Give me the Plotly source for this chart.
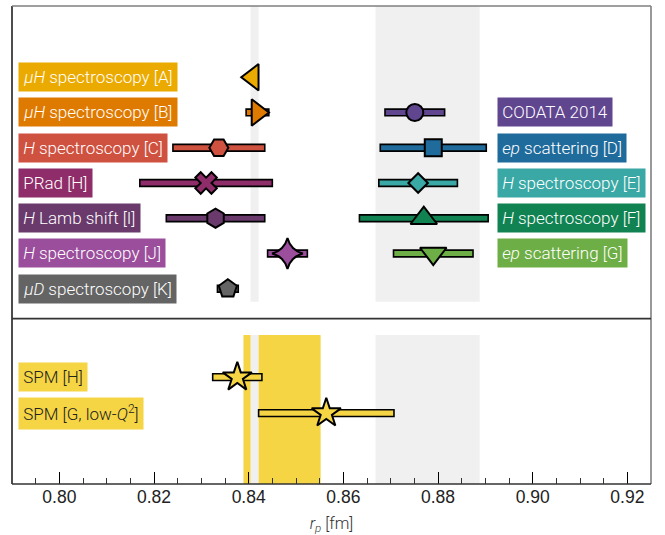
import plotly.graph_objects as go
from plotly.subplots import make_subplots

# ---------------- data ----------------
# top panel, left-labelled series (rows top -> bottom)
left_labels = ["<i>μH</i> spectroscopy [A]", "<i>μH</i> spectroscopy [B]",
               "<i>H</i> spectroscopy [C]", "PRad [H]", "<i>H</i> Lamb shift [I]",
               "<i>H</i> spectroscopy [J]", "<i>μD</i> spectroscopy [K]"]
left_rows = [0, 1, 2, 3, 4, 5, 6]
left_values = [0.84087, 0.84186, 0.8337, 0.8310, 0.8330, 0.8482, 0.8356]
left_errors = [0.00039, 0.0024, 0.0097, 0.0140, 0.0104, 0.0042, 0.0022]
left_colors = ["#EBAA00", "#DF7A00", "#CF5140", "#8F2D6A", "#6A3A6C", "#9A4E9C", "#646464"]
left_symbols = ["triangle-left", "triangle-right", "hexagon2", "x", "hexagon", "star-diamond", "pentagon"]
left_sizes = [23, 23, 19, 19, 19, 22, 19]

# top panel, right-labelled series
right_labels = ["CODATA 2014", "<i>ep</i> scattering [D]", "<i>H</i> spectroscopy [E]",
                "<i>H</i> spectroscopy [F]", "<i>ep</i> scattering [G]"]
right_rows = [1, 2, 3, 4, 5]
right_values = [0.8751, 0.8790, 0.8758, 0.8770, 0.8790]
right_errors = [0.0063, 0.0112, 0.0083, 0.0136, 0.0084]
right_colors = ["#60458F", "#1F6B9B", "#3AA8A5", "#118352", "#6EAE46"]
right_symbols = ["circle", "square", "diamond", "triangle-up", "triangle-down"]
right_sizes = [17, 17, 15, 23, 23]

# bottom panel (SPM)
spm_labels = ["SPM [H]", "SPM [G, low-<i>Q</i><sup>2</sup>]"]
spm_rows = [0, 1]
spm_values = [0.8376, 0.8564]
spm_errors = [0.0052, 0.0143]
spm_color = "#F6D545"

# shaded bands (x ranges)
gray_bands = [(0.8404, 0.8421), (0.8668, 0.8888)]
yellow_bands = [(0.8389, 0.8404), (0.8421, 0.8552)]

x_range = [0.790, 0.925]
TOP_FRAC = 0.654

# ---------------- figure ----------------
fig = make_subplots(rows=2, cols=1, shared_xaxes=True, vertical_spacing=0,
                    row_heights=[TOP_FRAC, 1 - TOP_FRAC])

BAR_W = 0.19
EDGE = dict(color="black", width=1.6)


def add_series(values, errors, rows, colors, symbols, sizes, row):
    fig.add_trace(go.Bar(orientation="h", y=rows,
                         x=[2 * e for e in errors],
                         base=[v - e for v, e in zip(values, errors)],
                         width=BAR_W, marker=dict(color=colors, line=EDGE, opacity=1),
                         showlegend=False, hoverinfo="skip"), row=row, col=1)
    fig.add_trace(go.Scatter(x=values, y=rows, mode="markers",
                             marker=dict(symbol=symbols, size=sizes, color=colors, opacity=1,
                                         line=dict(color="black", width=2)),
                             showlegend=False), row=row, col=1)


add_series(left_values, left_errors, left_rows, left_colors, left_symbols, left_sizes, 1)
add_series(right_values, right_errors, right_rows, right_colors, right_symbols, right_sizes, 1)
add_series(spm_values, spm_errors, spm_rows, [spm_color] * 2, ["star"] * 2, [22, 22], 2)

shapes = []
for x0, x1 in gray_bands:
    shapes.append(dict(type="rect", xref="x", yref="y domain", x0=x0, x1=x1, y0=0.054, y1=1,
                       fillcolor="#F0F0F0", line=dict(width=0), layer="below"))
    shapes.append(dict(type="rect", xref="x2", yref="y2 domain", x0=x0, x1=x1, y0=0, y1=0.9016,
                       fillcolor="#F0F0F0", line=dict(width=0), layer="below"))
for x0, x1 in yellow_bands:
    shapes.append(dict(type="rect", xref="x2", yref="y2 domain", x0=x0, x1=x1, y0=0, y1=0.9016,
                       fillcolor=spm_color, line=dict(width=0), layer="below"))

# frame
shapes += [
    dict(type="line", xref="paper", yref="paper", x0=0, x1=0, y0=0, y1=1,
         line=dict(color="black", width=1.4), layer="above"),
    dict(type="line", xref="paper", yref="paper", x0=0, x1=1, y0=1, y1=1,
         line=dict(color="#7F7F7F", width=1.6), layer="above"),
    dict(type="line", xref="paper", yref="paper", x0=1, x1=1, y0=0, y1=1,
         line=dict(color="#7F7F7F", width=1.6), layer="above"),
    dict(type="line", xref="paper", yref="paper", x0=0, x1=1, y0=0, y1=0,
         line=dict(color="#333333", width=1.4), layer="above"),
    dict(type="line", xref="paper", yref="paper", x0=0, x1=1, y0=1 - TOP_FRAC, y1=1 - TOP_FRAC,
         line=dict(color="#333333", width=1.6), layer="above"),
]

LABEL_FONT = dict(family="Roboto", size=17, color="white", weight=300)
annotations = []
for lab, r, c in zip(left_labels, left_rows, left_colors):
    annotations.append(dict(text=lab, xref="paper", yref="y", x=0.0089, y=r,
                            xanchor="left", yanchor="middle", showarrow=False,
                            bgcolor=c, borderpad=4.2, font=LABEL_FONT))
for lab, r, c in zip(right_labels, right_rows, right_colors):
    annotations.append(dict(text=lab, xref="paper", yref="y", x=0.7597, y=r,
                            xanchor="left", yanchor="middle", showarrow=False,
                            bgcolor=c, borderpad=4.2, font=LABEL_FONT))
for lab, r in zip(spm_labels, spm_rows):
    annotations.append(dict(text=lab, xref="paper", yref="y2", x=0.0089, y=r,
                            xanchor="left", yanchor="middle", showarrow=False,
                            bgcolor=spm_color, borderpad=4.2,
                            font=dict(family="Roboto", size=17, color="#222222", weight=300)))

fig.update_layout(
    width=665, height=535,
    margin=dict(l=12, r=14, t=6, b=51),
    paper_bgcolor="white", plot_bgcolor="white",
    barmode="overlay", showlegend=False,
    shapes=shapes, annotations=annotations,
    font=dict(family="Liberation Sans", color="#222222"),
)

fig.update_xaxes(range=x_range, showgrid=False, zeroline=False, showline=False)
fig.update_xaxes(showticklabels=False, ticks="", row=1, col=1)
fig.update_xaxes(row=2, col=1, ticks="inside", tick0=0.80, dtick=0.02, ticklen=12,
                 tickwidth=1.3, tickcolor="black", tickformat=".2f",
                 tickfont=dict(family="Liberation Sans", size=17.5, color="#222222"),
                 minor=dict(ticks="inside", dtick=0.005, ticklen=6, tickwidth=1.2, tickcolor="#333333"),
                 title=dict(text="<i>r<sub>p</sub></i> [fm]", standoff=11,
                            font=dict(family="Roboto", size=16.5, color="#333333", weight=300)))
fig.update_yaxes(showgrid=False, zeroline=False, showline=False, showticklabels=False, ticks="")
fig.update_yaxes(range=[6.847, -2.02], row=1, col=1)
fig.update_yaxes(range=[2.972, -1.628], row=2, col=1)

fig.write_html("out.html", config={"displayModeBar": False},
               post_script="document.body.style.margin='0';")
